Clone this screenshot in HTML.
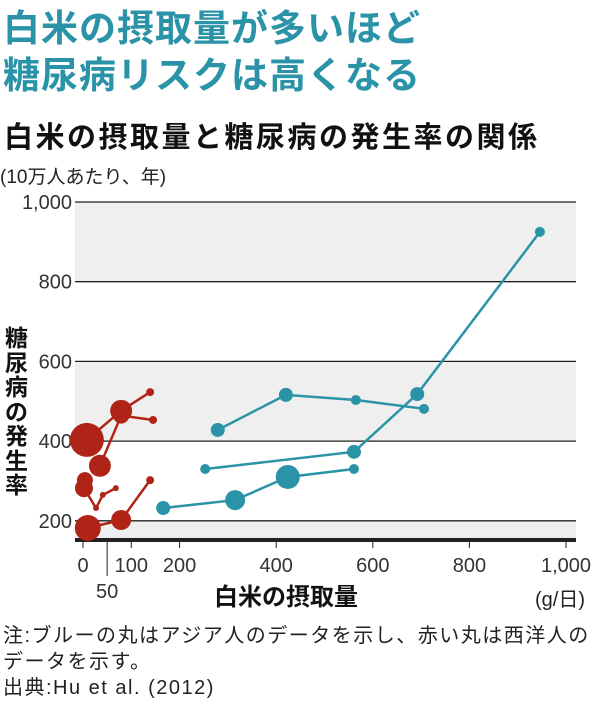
<!DOCTYPE html>
<html><head><meta charset="utf-8">
<style>
body{margin:0;background:#fff;width:600px;height:708px;overflow:hidden;font-family:"Liberation Sans","Noto Sans CJK JP",sans-serif;}
.t{position:absolute;white-space:nowrap}
</style></head><body>
<div class="t" style="left:3px;top:-2px;font-size:37px;font-weight:bold;color:#2a93a8;letter-spacing:1px">白米の摂取量が多いほど</div>
<div class="t" style="left:3px;top:45px;font-size:37px;font-weight:bold;color:#2a93a8;letter-spacing:1px">糖尿病リスクは高くなる</div>
<div class="t" style="left:4px;top:114px;font-size:29px;font-weight:bold;color:#111;letter-spacing:2.5px">白米の摂取量と糖尿病の発生率の関係</div>
<div class="t" style="left:0px;top:162px;font-size:19px;color:#222">(10万人あたり、年)</div>
<div class="t" style="left:5px;top:326px;width:26px;font-size:23px;font-weight:bold;color:#111;white-space:normal;line-height:24.5px">糖尿病の発生率</div>
<div class="t" style="left:214px;top:577px;font-size:24px;font-weight:bold;color:#111">白米の摂取量</div>
<div class="t" style="left:535px;top:583px;font-size:20px;color:#222">(g/日)</div>
<div class="t" style="left:3px;top:623px;font-size:20px;color:#222;line-height:26px;letter-spacing:1.5px">注:ブルーの丸はアジア人のデータを示し、赤い丸は西洋人の<br>データを示す。<br>出典:Hu et al. (2012)</div>
<svg id="chart" width="600" height="708" style="position:absolute;left:0;top:0"></svg>
<script>
const yTicks=[200,400,600,800,1000];
const yTickLabels=["200","400","600","800","1,000"];
const xTicks=[0,100,200,400,600,800,1000];
const xTickLabels=["0","100","200","400","600","800","1,000"];
const blueA_x=[279,420,565,706], blueA_y=[428,516,503,481], blueA_r=[7,7,5,5];
const blueB_x=[253,561,692,946], blueB_y=[330,373,518,925], blueB_r=[5,7,7,5];
const blueC_x=[166,315,424,561], blueC_y=[232,252,310,330], blueC_r=[7,10,12,5];
const red1_x=[8,79,139], red1_y=[403,476,523], red1_r=[17,11,4];
const red2_x=[35,79,145], red2_y=[338,464,453], red2_r=[11,8,4];
const red3_x=[4,2,27,41,68], red3_y=[302,282,232,265,282], red3_r=[8,9,3,3,3];
const red4_x=[10,79,139], red4_y=[182,202,302], red4_r=[13,10,4];
const X=v=>83+v*0.483, Y=v=>600.5-v*0.3985;
const svg=document.getElementById('chart');const NS='http://www.w3.org/2000/svg';
function mk(t,a){const e=document.createElementNS(NS,t);for(const k in a)e.setAttribute(k,a[k]);svg.appendChild(e);return e;}
let b=mk('rect',{x:75,y:Y(1000),width:501,height:Y(800)-Y(1000),fill:'#efefef'});


b=mk('rect',{x:75,y:Y(600),width:501,height:Y(400)-Y(600),fill:'#efefef'});


b=mk('rect',{x:75,y:Y(200),width:501,height:540-Y(200),fill:'#efefef'});


yTicks.forEach((v,i)=>{
 const l=mk('line',{x1:75,x2:576,y1:Y(v),y2:Y(v),stroke:'#222','stroke-width':1.3});
 
 
 const t=mk('text',{x:72,y:Y(v)+7,'text-anchor':'end','font-size':20,fill:'#333'});t.textContent=yTickLabels[i];
 
 
});
const ax=mk('line',{x1:75,x2:576,y1:540,y2:540,stroke:'#222','stroke-width':4});


xTicks.forEach((v,i)=>{
 const l=mk('line',{x1:X(v),x2:X(v),y1:540,y2:548,stroke:'#222','stroke-width':1});
 
 
 const t=mk('text',{x:X(v),y:572,'text-anchor':'middle','font-size':20,fill:'#333'});t.textContent=xTickLabels[i];
 
 
});
const l50=mk('line',{x1:X(50),x2:X(50),y1:540,y2:576,stroke:'#222','stroke-width':1});


const t50=mk('text',{x:X(50),y:598,'text-anchor':'middle','font-size':20,fill:'#333'});t50.textContent='50';


function series(xs,ys,rs,col,name){
 const p=mk('polyline',{points:xs.map((x,i)=>X(x)+','+Y(ys[i])).join(' '),fill:'none',stroke:col,'stroke-width':2.5});
 
 
 xs.forEach((x,i)=>{const c=mk('circle',{cx:X(x),cy:Y(ys[i]),r:rs[i],fill:col});
  
  });
}
const BL='#2a93a8',RD='#b02418';
series(blueA_x,blueA_y,blueA_r,BL,'asian-cohort-a');
series(blueB_x,blueB_y,blueB_r,BL,'asian-cohort-b');
series(blueC_x,blueC_y,blueC_r,BL,'asian-cohort-c');
series(red1_x,red1_y,red1_r,RD,'western-cohort-1');
series(red2_x,red2_y,red2_r,RD,'western-cohort-2');
series(red3_x,red3_y,red3_r,RD,'western-cohort-3');
series(red4_x,red4_y,red4_r,RD,'western-cohort-4');
</script>
</body></html>
